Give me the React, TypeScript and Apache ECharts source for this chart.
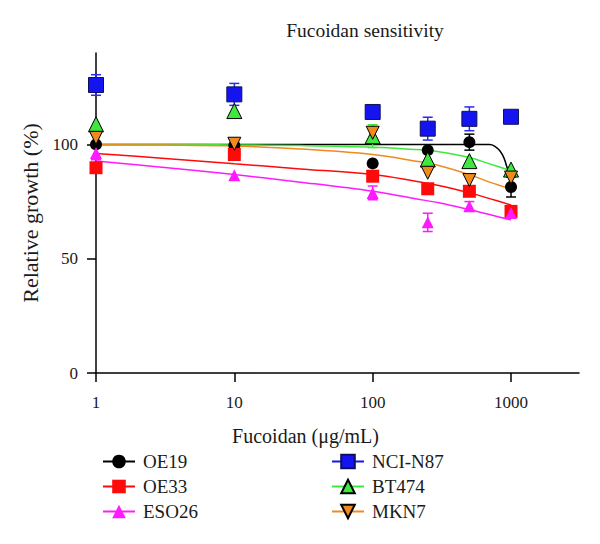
import React, { useEffect, useRef } from "react";
import * as echarts from "echarts";

const cellLines = ["OE19", "OE33", "ESO26", "NCI-N87", "BT474", "MKN7"];
const doses = [1, 10, 100, 250, 500, 1000];

// measured mean growth (%) per dose
const oe19 = [100, 99.5, 91.7, 97.5, 101, 81.4];
const oe33 = [89.8, 95.6, 86.1, 80.6, 79.5, 70.7];
const eso26 = [96.3, 86.5, 78.8, 65.9, 73, 70];
const nciN87 = [126, 121.9, 114.2, 106.9, 111.2, 112.1];
const bt474 = [108.8, 114.6, 103.6, 93.4, 92.7, 89];
const mkn7 = [102.9, 100.3, 105.1, 87.6, 84.4, 85.5];

// error (+/-) per dose
const oe19Err = [0, 0, 0, 0, 3.5, 4.4];
const oe33Err = [0, 0, 0, 0, 0, 0];
const eso26Err = [3, 0, 3, 4, 2, 0];
const nciN87Err = [4.5, 4.8, 0, 5, 5.2, 0];
const bt474Err = [0, 0, 5, 0, 0, 0];
const mkn7Err = [0, 0, 0, 0, 0, 0];

// fitted curves; NCI-N87 has no fitted curve
const fitX = [1, 3, 10, 30, 100, 200, 300, 500, 700, 1000];
const oe33Fit = [96.0, 94.0, 91.5, 89.3, 86.8, 84.0, 82.0, 78.8, 76.3, 73.5];
const eso26Fit = [92.7, 90.0, 86.8, 83.5, 79.5, 76.3, 74.5, 71.5, 69.3, 67.0];
const bt474Fit = [100, 100, 99.8, 99.5, 98.8, 97.8, 96.8, 94.3, 91.5, 88.5];
const mkn7Fit = [99.9, 99.7, 99.3, 98.0, 95.6, 92.8, 90.8, 86.8, 83.5, 80.5];
const oe19FitX = [1, 100, 500, 700, 760, 830, 890, 940, 975, 1000];
const oe19Fit = [100, 100, 100, 100, 99.3, 97.2, 94, 89.5, 85.5, 81.7];

const yTicks = [0, 50, 100];
const xTicks = [1, 10, 100, 1000];

const FONT = "Liberation Serif";
const TXT = "#1a1a1a";

const styles = [
  { color: "#000000", symbol: "circle", size: 12, rotate: 0, border: "#000000", bw: 0 },
  { color: "#ff0a0a", symbol: "rect", size: 13, rotate: 0, border: "#ff0a0a", bw: 0 },
  { color: "#ff1aff", symbol: "triangle", size: 12, rotate: 0, border: "#ff1aff", bw: 0 },
  { color: "#1414f0", symbol: "rect", size: 15, rotate: 0, border: "#10105a", bw: 1 },
  { color: "#3ee83e", symbol: "triangle", size: 15, rotate: 0, border: "#000000", bw: 1 },
  { color: "#f0891e", symbol: "triangle", size: 13, rotate: 180, border: "#000000", bw: 1 },
];

const means = [oe19, oe33, eso26, nciN87, bt474, mkn7];
const errs = [oe19Err, oe33Err, eso26Err, nciN87Err, bt474Err, mkn7Err];
const fits = [
  { x: oe19FitX, y: oe19Fit },
  { x: fitX, y: oe33Fit },
  { x: fitX, y: eso26Fit },
  null,
  { x: fitX, y: bt474Fit },
  { x: fitX, y: mkn7Fit },
];

export default function App() {
  const ref = useRef<HTMLDivElement>(null);
  useEffect(() => {
    if (!ref.current) return;
    const chart = echarts.init(ref.current, null, { renderer: "svg" });

    const lineSeries: any[] = cellLines.map((name, i) => {
      const s = styles[i];
      const f = fits[i];
      return {
        type: "line",
        name,
        data: f ? f.x.map((x, j) => [x, f.y[j]]) : [],
        symbol: s.symbol,
        symbolRotate: s.rotate,
        showSymbol: false,
        smooth: 0.35,
        lineStyle: { color: s.color, width: 1.5 },
        itemStyle: { color: s.color, borderColor: s.border, borderWidth: s.bw },
        z: 2,
        silent: true,
      };
    });

    const errSeries: any[] = cellLines.map((name, i) => {
      const s = styles[i];
      const data = doses
        .map((d, j) => [d, means[i][j], errs[i][j]])
        .filter((r) => r[2] > 0);
      return {
        type: "custom",
        name,
        data,
        encode: { x: 0, y: 1 },
        z: 3,
        silent: true,
        renderItem: (params: any, api: any) => {
          const x = api.value(0);
          const y = api.value(1);
          const e = api.value(2);
          const top = api.coord([x, y + e]);
          const bot = api.coord([x, y - e]);
          const w = 5;
          const style = { stroke: s.color === "#1414f0" ? "#2a2af0" : s.color, lineWidth: 1.5 };
          return {
            type: "group",
            children: [
              { type: "line", shape: { x1: top[0], y1: top[1], x2: bot[0], y2: bot[1] }, style },
              { type: "line", shape: { x1: top[0] - w, y1: top[1], x2: top[0] + w, y2: top[1] }, style },
              { type: "line", shape: { x1: bot[0] - w, y1: bot[1], x2: bot[0] + w, y2: bot[1] }, style },
            ],
          };
        },
      };
    });

    const scatterSeries: any[] = cellLines.map((name, i) => {
      const s = styles[i];
      return {
        type: "scatter",
        name,
        data: doses.map((d, j) => [d, means[i][j]]),
        symbol: s.symbol,
        symbolSize: s.size,
        symbolRotate: s.rotate,
        itemStyle: { color: s.color, borderColor: s.border, borderWidth: s.bw, opacity: 1 },
        z: 4,
        silent: true,
      };
    });

    const legendBase = {
      orient: "vertical",
      itemWidth: 32,
      itemHeight: 17,
      itemGap: 6,
      top: 447,
      textStyle: { fontFamily: FONT, fontSize: 19, color: TXT, padding: [0, 0, 0, 3] },
      selectedMode: false,
    };

    chart.setOption({
      animation: false,
      backgroundColor: "#ffffff",
      textStyle: { fontFamily: FONT, color: TXT },
      title: {
        text: "Fucoidan sensitivity",
        left: 360,
        top: 15,
        textAlign: "center",
        textStyle: { fontFamily: FONT, fontSize: 19.5, fontWeight: "normal", color: TXT },
      },
      legend: [
        { ...legendBase, left: 97, data: cellLines.slice(0, 3) },
        { ...legendBase, left: 326, data: cellLines.slice(3, 6) },
      ],
      grid: { left: 96, top: 53, width: 483, height: 320, containLabel: false },
      xAxis: {
        type: "log",
        logBase: 10,
        min: 1,
        max: 3100,
        name: "Fucoidan (μg/mL)",
        nameLocation: "middle",
        nameGap: 53,
        nameTextStyle: { fontFamily: FONT, fontSize: 20, color: TXT, padding: [0, 64, 0, 0] },
        axisLine: { show: true, lineStyle: { color: "#000", width: 1.5 } },
        axisTick: { show: true, length: 9, lineStyle: { color: "#000", width: 1.5 }, customValues: xTicks },
        axisLabel: {
          fontFamily: FONT,
          fontSize: 17,
          color: TXT,
          margin: 21,
          customValues: xTicks,
          formatter: (v: number) => String(Math.round(v)),
        },
        minorTick: { show: false },
        splitLine: { show: false },
      },
      yAxis: {
        type: "value",
        min: 0,
        max: 140,
        interval: 50,
        name: "Relative growth (%)",
        nameLocation: "middle",
        nameGap: 55,
        nameTextStyle: { fontFamily: FONT, fontSize: 22, color: TXT },
        axisLine: { show: true, lineStyle: { color: "#000", width: 1.5 } },
        axisTick: { show: true, length: 9, lineStyle: { color: "#000", width: 1.5 }, customValues: yTicks },
        axisLabel: {
          fontFamily: FONT,
          fontSize: 17,
          color: TXT,
          margin: 18,
          customValues: yTicks,
          formatter: (v: number) => String(Math.round(v)),
        },
        splitLine: { show: false },
      },
      series: [...lineSeries, ...errSeries, ...scatterSeries],
    });
    return () => chart.dispose();
  }, []);
  return (
    <div
      ref={ref}
      style={{ position: "absolute", left: 0, top: 0, width: 600, height: 544 }}
    />
  );
}
